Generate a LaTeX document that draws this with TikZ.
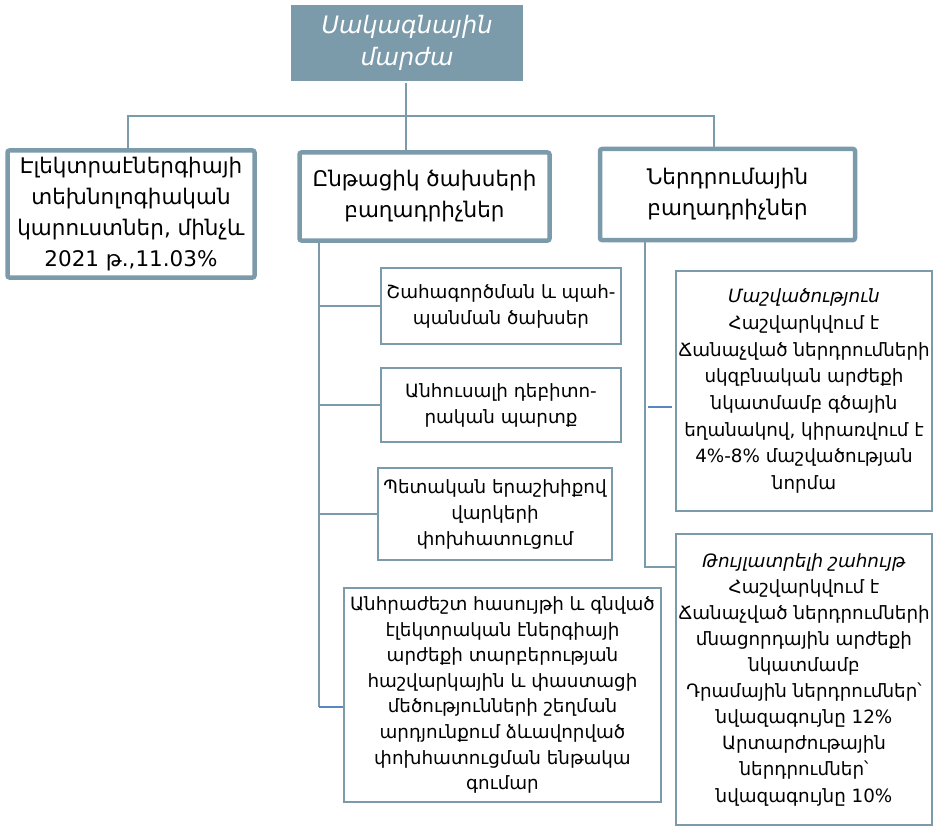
\documentclass[tikz,border=0pt]{standalone}
\usepackage{fontspec}
\setmainfont{DejaVu Sans}
\definecolor{bd}{HTML}{7B9BAB}
\definecolor{tick}{HTML}{5B87C0}
\begin{document}
\begin{tikzpicture}[x=1pt,y=-1pt,
  lvl/.style={draw=bd,line width=4.5pt,rounded corners=2pt,fill=white,align=center,inner sep=0pt,
    font=\fontsize{21.5}{31}\selectfont},
  sub/.style={draw=bd,line width=2pt,fill=white,align=center,inner sep=0pt,
    font=\fontsize{18.3}{26}\selectfont},
  conn/.style={draw=bd,line width=1.8pt},
  btick/.style={draw=tick,line width=1.3pt}]
\useasboundingbox (0,0) rectangle (934,829);
% top
\node[fill=bd,minimum width=232pt,minimum height=76pt,align=center,inner sep=0pt,text=white,
  font=\fontsize{24}{32}\selectfont\itshape] (T) at (407,43) {Սակագնային\\մարժա};
% level 1
\node[lvl,minimum width=247pt,minimum height=127pt] (L) at (131,214)
  {Էլեկտրաէներգիայի\\տեխնոլոգիական\\կարուստներ, մինչև\\2021 թ.,11.03\%};
\node[lvl,minimum width=250pt,minimum height=88pt] (M) at (424.5,196.5)
  {Ընթացիկ ծախսերի\\բաղադրիչներ};
\node[lvl,minimum width=255pt,minimum height=91pt] (R) at (727.5,194.5)
  {Ներդրումային\\բաղադրիչներ};
% sub boxes
\node[sub,minimum width=240pt,minimum height=76pt] (S1) at (501,306)
  {Շահագործման և պահ-\\պանման ծախսեր};
\node[sub,minimum width=240pt,minimum height=74pt] (S2) at (501,405)
  {Անհուսալի դեբիտո-\\րական պարտք};
\node[sub,minimum width=234pt,minimum height=92pt] (S3) at (495,514)
  {Պետական երաշխիքով\\վարկերի\\փոխհատուցում};
\node[sub,minimum width=317pt,minimum height=214pt,font=\fontsize{18.3}{25.6}\selectfont] (S4) at (502.5,695)
  {Անհրաժեշտ հասույթի և գնված\\էլեկտրական էներգիայի\\արժեքի տարբերության\\հաշվարկային և փաստացի\\մեծությունների շեղման\\արդյունքում ձևավորված\\փոխհատուցման ենթակա\\գումար};
\node[sub,minimum width=256pt,minimum height=240pt,font=\fontsize{18.3}{26.7}\selectfont] (D1) at (804,391)
  {\textit{Մաշվածություն}\\Հաշվարկվում է\\Ճանաչված ներդրումների\\սկզբնական արժեքի\\նկատմամբ գծային\\եղանակով, կիրառվում է\\4\%-8\% մաշվածության\\նորմա};
\node[sub,minimum width=256pt,minimum height=291pt,font=\fontsize{18.3}{26.1}\selectfont] (D2) at (804,679.5)
  {\textit{Թույլատրելի շահույթ}\\Հաշվարկվում է\\Ճանաչված ներդրումների\\մնացորդային արժեքի\\նկատմամբ\\Դրամային ներդրումներ՝\\նվազագույնը 12\%\\Արտարժութային\\ներդրումներ՝\\նվազագույնը 10\%};
% connectors
\coordinate (bus) at (406,116);
\coordinate (lb) at (128,116);
\coordinate (rb) at (714,116);
\draw[conn,shorten <=2pt] (T.south -| bus) -- (M.north -| bus);
\draw[conn] (L.north -| lb) -- (lb) -- (rb) -- (R.north -| rb);
\coordinate (mc) at (319,0);
\coordinate (b4t) at (343,707);
\draw[conn] (M.south -| mc) -- (mc |- b4t);
\draw[conn] (mc |- S1.west) -- (S1.west);
\draw[conn] (mc |- S2.west) -- (S2.west);
\draw[conn] (mc |- S3.west) -- (S3.west);
\draw[btick] (mc |- b4t) -- (b4t);
\coordinate (rc) at (645,0);
\coordinate (t2c) at (675,567);
\coordinate (m2t) at (675,407);
\draw[conn] (R.south -| rc) |- (t2c);
\draw[btick,shorten <=3pt,shorten >=3pt] (rc |- m2t) -- (m2t);
\end{tikzpicture}
\end{document}
